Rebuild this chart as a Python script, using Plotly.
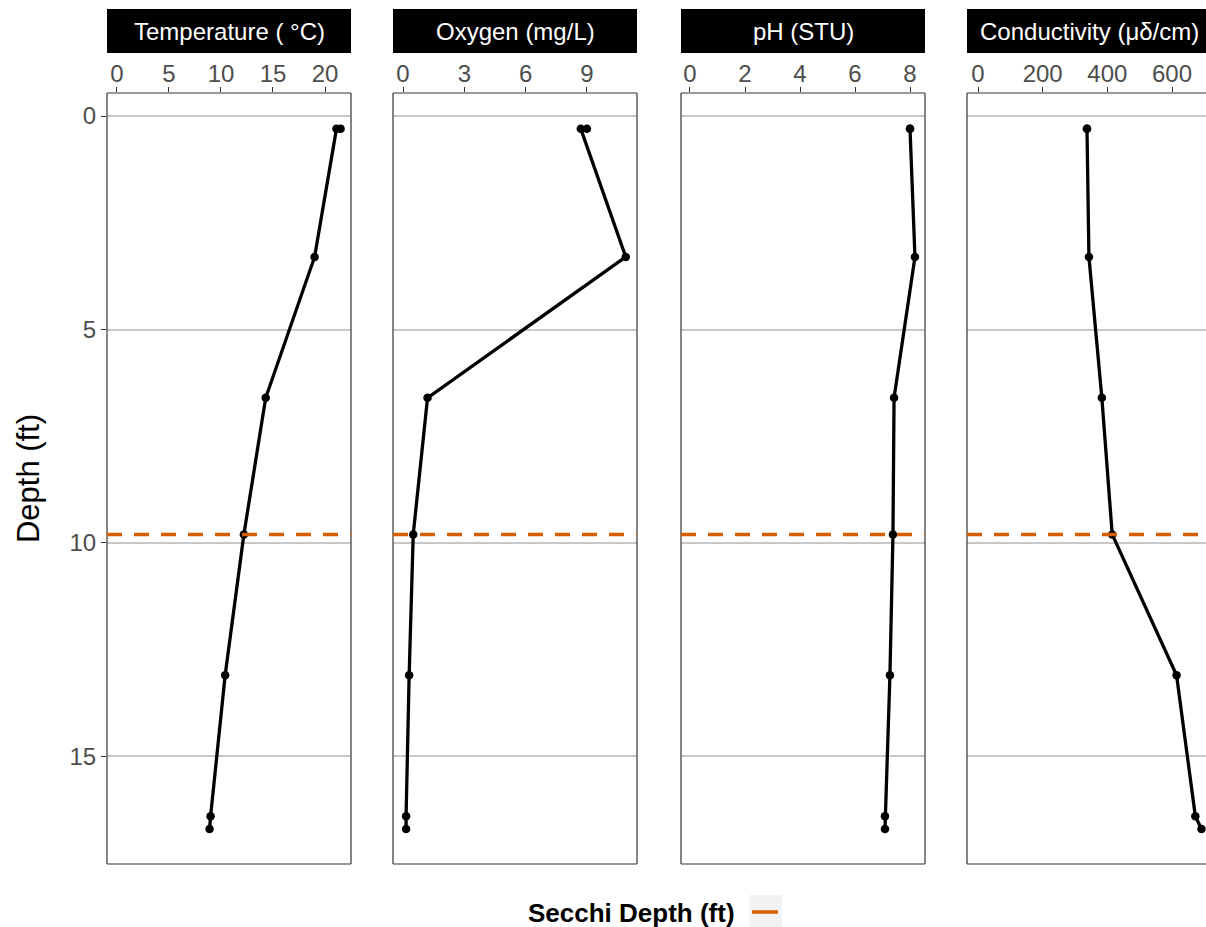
import plotly.graph_objects as go

# ---- data ----
depth = [0.3, 0.3, 3.3, 6.6, 9.8, 13.1, 16.4, 16.7]
temperature = [21.5, 21.1, 19.0, 14.3, 12.2, 10.4, 9.0, 8.9]
oxygen = [9.0, 8.7, 10.9, 1.2, 0.5, 0.3, 0.15, 0.15]
ph = [8.0, 8.0, 8.18, 7.42, 7.38, 7.27, 7.09, 7.09]
conductivity = [337, 337, 343, 383, 415, 614, 672, 691]
secchi_depth = 9.8

panel_titles = ["Temperature ( °C)", "Oxygen (mg/L)", "pH (STU)", "Conductivity (μδ/cm)"]
series = [temperature, oxygen, ph, conductivity]
x_ticks = [[0, 5, 10, 15, 20], [0, 3, 6, 9], [0, 2, 4, 6, 8], [0, 200, 400, 600]]
x_ranges = [[-0.96, 22.5], [-0.49, 11.45], [-0.327, 8.545], [-34, 705]]
depth_ticks = [0, 5, 10, 15]
legend_title = "Secchi Depth (ft)"

# ---- layout geometry (pixels) ----
W, H = 1206, 927
L, R, T, B = 107, 0, 93, 63
PW = W - L - R
PH = H - T - B
panel_px = [(107, 351), (393, 637), (681, 925), (967, 1206)]

def px2x(p):
    return (p - L) / PW

def px2y(p):
    return (H - B - p) / PH

FONT = "Liberation Sans, Arial, sans-serif"
fig = go.Figure()

layout = dict(
    width=W, height=H,
    margin=dict(l=L, r=R, t=T, b=B),
    paper_bgcolor="white", plot_bgcolor="white",
    showlegend=False,
    font=dict(family=FONT, color="#4D4D4D"),
)
shapes = []
annotations = []

for i, (vals, title, ticks, xr, (p0, p1)) in enumerate(
        zip(series, panel_titles, x_ticks, x_ranges, panel_px)):
    xa = "x" if i == 0 else f"x{i+1}"
    ya = "y" if i == 0 else f"y{i+1}"
    xkey = "xaxis" if i == 0 else f"xaxis{i+1}"
    ykey = "yaxis" if i == 0 else f"yaxis{i+1}"
    fig.add_trace(go.Scatter(
        x=vals, y=depth, mode="lines+markers",
        line=dict(color="black", width=3.3),
        marker=dict(color="black", size=8.5),
        xaxis=xa, yaxis=ya, cliponaxis=True,
    ))
    layout[xkey] = dict(
        domain=[px2x(p0), px2x(p1)], range=xr, side="top",
        anchor=ya, tickvals=ticks, ticks="outside", ticklen=5,
        tickcolor="#333333", tickwidth=1,
        ticklabelstandoff=-5,
        tickfont=dict(size=24, color="#4D4D4D", family=FONT),
        showgrid=False, zeroline=False, showline=False,
    )
    layout[ykey] = dict(
        domain=[0, 1], range=[17.52, -0.54], anchor=xa,
        tickvals=depth_ticks, showgrid=True, gridcolor="#C8C8C8",
        gridwidth=1.5, zeroline=False, showline=False,
        showticklabels=(i == 0), ticks="outside" if i == 0 else "",
        ticklen=5, tickcolor="#333333",
        tickfont=dict(size=24, color="#4D4D4D", family=FONT),
    )
    if i == 0:
        layout[ykey]["title"] = dict(text="Depth (ft)", standoff=20,
                                     font=dict(size=31, color="black", family=FONT))
    else:
        layout[ykey]["matches"] = "y"

    xd = f"{xa} domain"
    yd = f"{ya} domain"
    # panel border (last panel is cut at the right edge)
    border = dict(type="line", xref=xd, yref=yd, line=dict(color="#333333", width=1.2), layer="above")
    shapes.append({**border, "x0": 0, "x1": 0, "y0": 0, "y1": 1})
    shapes.append({**border, "x0": 0, "x1": 1, "y0": 0, "y1": 0})
    shapes.append({**border, "x0": 0, "x1": 1, "y0": 1, "y1": 1})
    if i < 3:
        shapes.append({**border, "x0": 1, "x1": 1, "y0": 0, "y1": 1})
    # secchi line
    shapes.append(dict(type="line", xref=xd, yref=ya, x0=0, x1=1,
                       y0=secchi_depth, y1=secchi_depth, layer="above",
                       line=dict(color="#D55E00", width=3.5, dash="15px,12px")))
    # strip
    shapes.append(dict(type="rect", xref=xd, yref="paper", x0=0, x1=1,
                       y0=px2y(53), y1=px2y(9), fillcolor="black",
                       line=dict(width=0), layer="above"))
    annotations.append(dict(text=title, xref=xd, yref="paper",
                            x=0.5 if i < 3 else (1089 - 967) / 239, y=px2y(31),
                            showarrow=False, xanchor="center", yanchor="middle",
                            font=dict(size=24, color="white", family=FONT)))

# legend (manual)
annotations.append(dict(text="<b>" + legend_title + "</b>", xref="paper", yref="paper",
                        x=px2x(737), y=px2y(913), xanchor="right", yanchor="middle",
                        showarrow=False, font=dict(size=26, color="black", family=FONT)))
shapes.append(dict(type="rect", xref="paper", yref="paper", x0=px2x(749), x1=px2x(782),
                   y0=px2y(927), y1=px2y(895), fillcolor="#F2F2F2", line=dict(width=0)))
shapes.append(dict(type="line", xref="paper", yref="paper", x0=px2x(752), x1=px2x(778),
                   y0=px2y(912), y1=px2y(912), line=dict(color="#D55E00", width=3.5)))

layout["shapes"] = shapes
layout["annotations"] = annotations
fig.update_layout(**layout)
fig.write_html("out.html", config={"displayModeBar": False},
               post_script="document.body.style.margin='0';document.body.style.overflow='hidden';")
